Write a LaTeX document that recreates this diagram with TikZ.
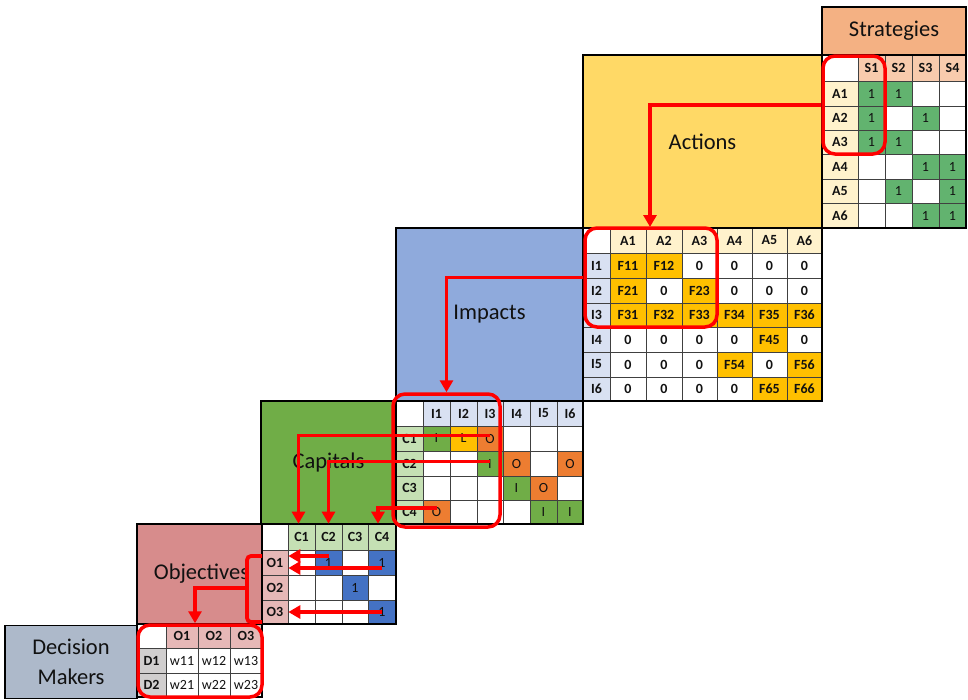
\documentclass[tikz,border=0pt]{standalone}
\usepackage{fontspec}
\setmainfont{Carlito}
\usetikzlibrary{arrows.meta}
\definecolor{cStrat}{HTML}{F4B183}
\definecolor{cSh}{HTML}{F8CBAD}
\definecolor{cA}{HTML}{FFF2CC}
\definecolor{cG}{HTML}{62B36F}
\definecolor{cAct}{HTML}{FFD966}
\definecolor{cImp}{HTML}{8FAADC}
\definecolor{cI}{HTML}{D9E1F2}
\definecolor{cF}{HTML}{FFC000}
\definecolor{cCap}{HTML}{70AD47}
\definecolor{cC}{HTML}{C5E0B4}
\definecolor{cGr}{HTML}{70AD47}
\definecolor{cY}{HTML}{FFC000}
\definecolor{cO}{HTML}{ED7D31}
\definecolor{cObj}{HTML}{D78C8C}
\definecolor{cOl}{HTML}{E6B8B7}
\definecolor{cB}{HTML}{4472C4}
\definecolor{cDM}{HTML}{ADB9CA}
\definecolor{cD}{HTML}{D0CECE}
\definecolor{gridc}{HTML}{404040}
\definecolor{txt}{HTML}{111111}
\definecolor{redc}{HTML}{FF0000}
\newcommand\cellfont{\fontsize{14}{16}\selectfont}
\newcommand\mxrow[6]{%
  \foreach[count=\ci from 0] \cf/\ct in {#5}{%
    \pgfmathsetmacro\xa{#3[\ci]}%
    \pgfmathsetmacro\xb{#3[\ci+1]}%
    \pgfmathsetmacro\ya{#4[#2]}%
    \pgfmathsetmacro\yb{#4[#2+1]}%
    \node[cellbox, #6, fill=\cf, minimum width={(\xb-\xa)*1pt}, minimum height={(\yb-\ya)*1pt}] (#1-#2-\ci) at ({(\xa+\xb)/2},{(\ya+\yb)/2}) {\ct};
  }}
\def\smx{{822,858,885,912,939,966}}
\def\smy{{55,81,106,130,154,179,203,228}}
\def\imx{{583,610,646,682,717,752,787,822}}
\def\imy{{228,253,278,303,327,352,377,401}}
\def\cmx{{396,423,450,477,503,530,557,583}}
\def\cmy{{401,426,451,476,500,524}}
\def\omx{{262,288,315,342,368,396}}
\def\omy{{524,550,575,600,624}}
\def\dmx{{137,166,198,230,262}}
\def\dmy{{624,648,673,697}}
\tikzset{
  cellbox/.style={draw=gridc, line width=0.7pt, inner sep=0pt, text=txt, font=\cellfont},
  bd/.style={font=\cellfont\bfseries},
  rg/.style={font=\cellfont},
  labelbox/.style={draw=black, line width=1.8pt, inner sep=0pt, text=txt, font=\fontsize{22.5}{30}\selectfont},
  outerb/.style={draw=black, line width=1.8pt},
  redline/.style={draw=redc, line width=3.8pt},
  redarrow/.style={redline, -{Triangle[length=12pt,width=13pt]}},
  redbox/.style={draw=redc, line width=3.5pt, rounded corners=12pt, inner sep=0pt},
}
\begin{document}
\begin{tikzpicture}[x=1pt,y=-1pt]
\useasboundingbox (0,0) rectangle (968,699);
\fill[white] (0,0) rectangle (968,699);
% Strategies matrix
\mxrow{sm}{0}{\smx}{\smy}{white/{}, cSh/S1, cSh/S2, cSh/S3, cSh/S4}{bd}
\mxrow{sm}{1}{\smx}{\smy}{cA/\textbf{A1}, cG/1, cG/1, white/{}, white/{}}{rg}
\mxrow{sm}{2}{\smx}{\smy}{cA/\textbf{A2}, cG/1, white/{}, cG/1, white/{}}{rg}
\mxrow{sm}{3}{\smx}{\smy}{cA/\textbf{A3}, cG/1, cG/1, white/{}, white/{}}{rg}
\mxrow{sm}{4}{\smx}{\smy}{cA/\textbf{A4}, white/{}, white/{}, cG/1, cG/1}{rg}
\mxrow{sm}{5}{\smx}{\smy}{cA/\textbf{A5}, white/{}, cG/1, white/{}, cG/1}{rg}
\mxrow{sm}{6}{\smx}{\smy}{cA/\textbf{A6}, white/{}, white/{}, cG/1, cG/1}{rg}
% Impacts matrix
\mxrow{im}{0}{\imx}{\imy}{white/{}, cA/A1, cA/A2, cA/A3, cA/A4, cA/A5, cA/A6}{bd}
\mxrow{im}{1}{\imx}{\imy}{cI/I1, cF/F11, cF/F12, white/0, white/0, white/0, white/0}{bd}
\mxrow{im}{2}{\imx}{\imy}{cI/I2, cF/F21, white/0, cF/F23, white/0, white/0, white/0}{bd}
\mxrow{im}{3}{\imx}{\imy}{cI/I3, cF/F31, cF/F32, cF/F33, cF/F34, cF/F35, cF/F36}{bd}
\mxrow{im}{4}{\imx}{\imy}{cI/I4, white/0, white/0, white/0, white/0, cF/F45, white/0}{bd}
\mxrow{im}{5}{\imx}{\imy}{cI/I5, white/0, white/0, white/0, cF/F54, white/0, cF/F56}{bd}
\mxrow{im}{6}{\imx}{\imy}{cI/I6, white/0, white/0, white/0, white/0, cF/F65, cF/F66}{bd}
% Capitals matrix
\mxrow{cm}{0}{\cmx}{\cmy}{white/{}, cI/I1, cI/I2, cI/I3, cI/I4, cI/I5, cI/I6}{bd}
\mxrow{cm}{1}{\cmx}{\cmy}{cC/\textbf{C1}, cGr/I, cY/L, cO/O, white/{}, white/{}, white/{}}{rg}
\mxrow{cm}{2}{\cmx}{\cmy}{cC/\textbf{C2}, white/{}, white/{}, cGr/I, cO/O, white/{}, cO/O}{rg}
\mxrow{cm}{3}{\cmx}{\cmy}{cC/\textbf{C3}, white/{}, white/{}, white/{}, cGr/I, cO/O, white/{}}{rg}
\mxrow{cm}{4}{\cmx}{\cmy}{cC/\textbf{C4}, cO/O, white/{}, white/{}, white/{}, cGr/I, cGr/I}{rg}
% Objectives matrix
\mxrow{om}{0}{\omx}{\omy}{white/{}, cC/C1, cC/C2, cC/C3, cC/C4}{bd}
\mxrow{om}{1}{\omx}{\omy}{cOl/\textbf{O1}, white/{}, cB/1, white/{}, cB/1}{rg}
\mxrow{om}{2}{\omx}{\omy}{cOl/\textbf{O2}, white/{}, white/{}, cB/1, white/{}}{rg}
\mxrow{om}{3}{\omx}{\omy}{cOl/\textbf{O3}, white/{}, white/{}, white/{}, cB/1}{rg}
% Decision makers matrix
\mxrow{dm}{0}{\dmx}{\dmy}{white/{}, cOl/O1, cOl/O2, cOl/O3}{bd}
\mxrow{dm}{1}{\dmx}{\dmy}{cD/\textbf{D1}, white/w11, white/w12, white/w13}{rg}
\mxrow{dm}{2}{\dmx}{\dmy}{cD/\textbf{D2}, white/w21, white/w22, white/w23}{rg}
% label boxes
\node[labelbox, fill=cStrat, minimum width=144pt, minimum height=48pt] (strat) at (894,31) {Strategies};
\node[labelbox, fill=cAct, minimum width=239pt, minimum height=173pt] (act) at (702.5,141.5) {Actions};
\node[labelbox, fill=cImp, minimum width=187pt, minimum height=173pt] (imp) at (489.5,314.5) {Impacts};
\node[labelbox, fill=cCap, minimum width=135pt, minimum height=123pt] (cap) at (328.5,462.5) {Capitals};
\node[labelbox, fill=cObj, minimum width=125pt, minimum height=100pt] (obj) at (199.5,574) {\hspace*{4pt}Objectives};
\node[labelbox, fill=cDM, minimum width=132pt, minimum height=73pt, align=center] (dmk) at (71,662) {Decision\\Makers};
% matrix outer borders
\draw[outerb] (822,55) rectangle (966,228);
\draw[outerb] (583,228) rectangle (822,401);
\draw[outerb] (396,401) rectangle (583,524);
\draw[outerb] (262,524) rectangle (396,624);
\draw[outerb] (137,624) rectangle (262,697);
% red selections
\node[redbox, minimum width=62pt, minimum height=98pt] (rs) at (854,105) {};
\node[redbox, minimum width=132pt, minimum height=99pt] (ri) at (651,277.5) {};
\node[redbox, minimum width=107pt, minimum height=133pt] (rc) at (446.5,460.5) {};
\node[redbox, minimum width=124pt, minimum height=72pt] (rd) at (200,661) {};
\coordinate (imIn) at (650,227);
\draw[redarrow] (rs.west) -| (imIn);
\draw[redarrow] (ri.west) -| (rc.north);
\draw[redarrow] ([yshift=3pt]cm-1-3.center) -| ([xshift=-3pt]om-0-1.north);
\draw[redarrow] ([yshift=2pt]cm-2-3.center) -| (om-0-2.north);
\draw[redarrow] ([yshift=4pt]cm-4-1.center) -| ([xshift=-4pt]om-0-4.north);
\draw[redarrow] ([yshift=6.5pt]om-1-2.center) -- ([yshift=6.5pt]om-1-0.east);
\draw[redarrow] ([yshift=-5.5pt]om-1-4.center) -- ([yshift=-5.5pt]om-1-0.east);
\draw[redarrow] (om-3-4.center) -- (om-3-0.east);
\coordinate (b1) at (262,556);
\coordinate (b2) at (247,556);
\coordinate (b3) at (247,622);
\coordinate (b4) at (262,622);
\coordinate (bm) at (247,588);
\draw[redline, rounded corners=4pt] (b1) -- (b2) -- (b3) -- (b4);
\draw[redarrow] (bm) -| ([xshift=-5pt]rd.north);
\end{tikzpicture}
\end{document}
